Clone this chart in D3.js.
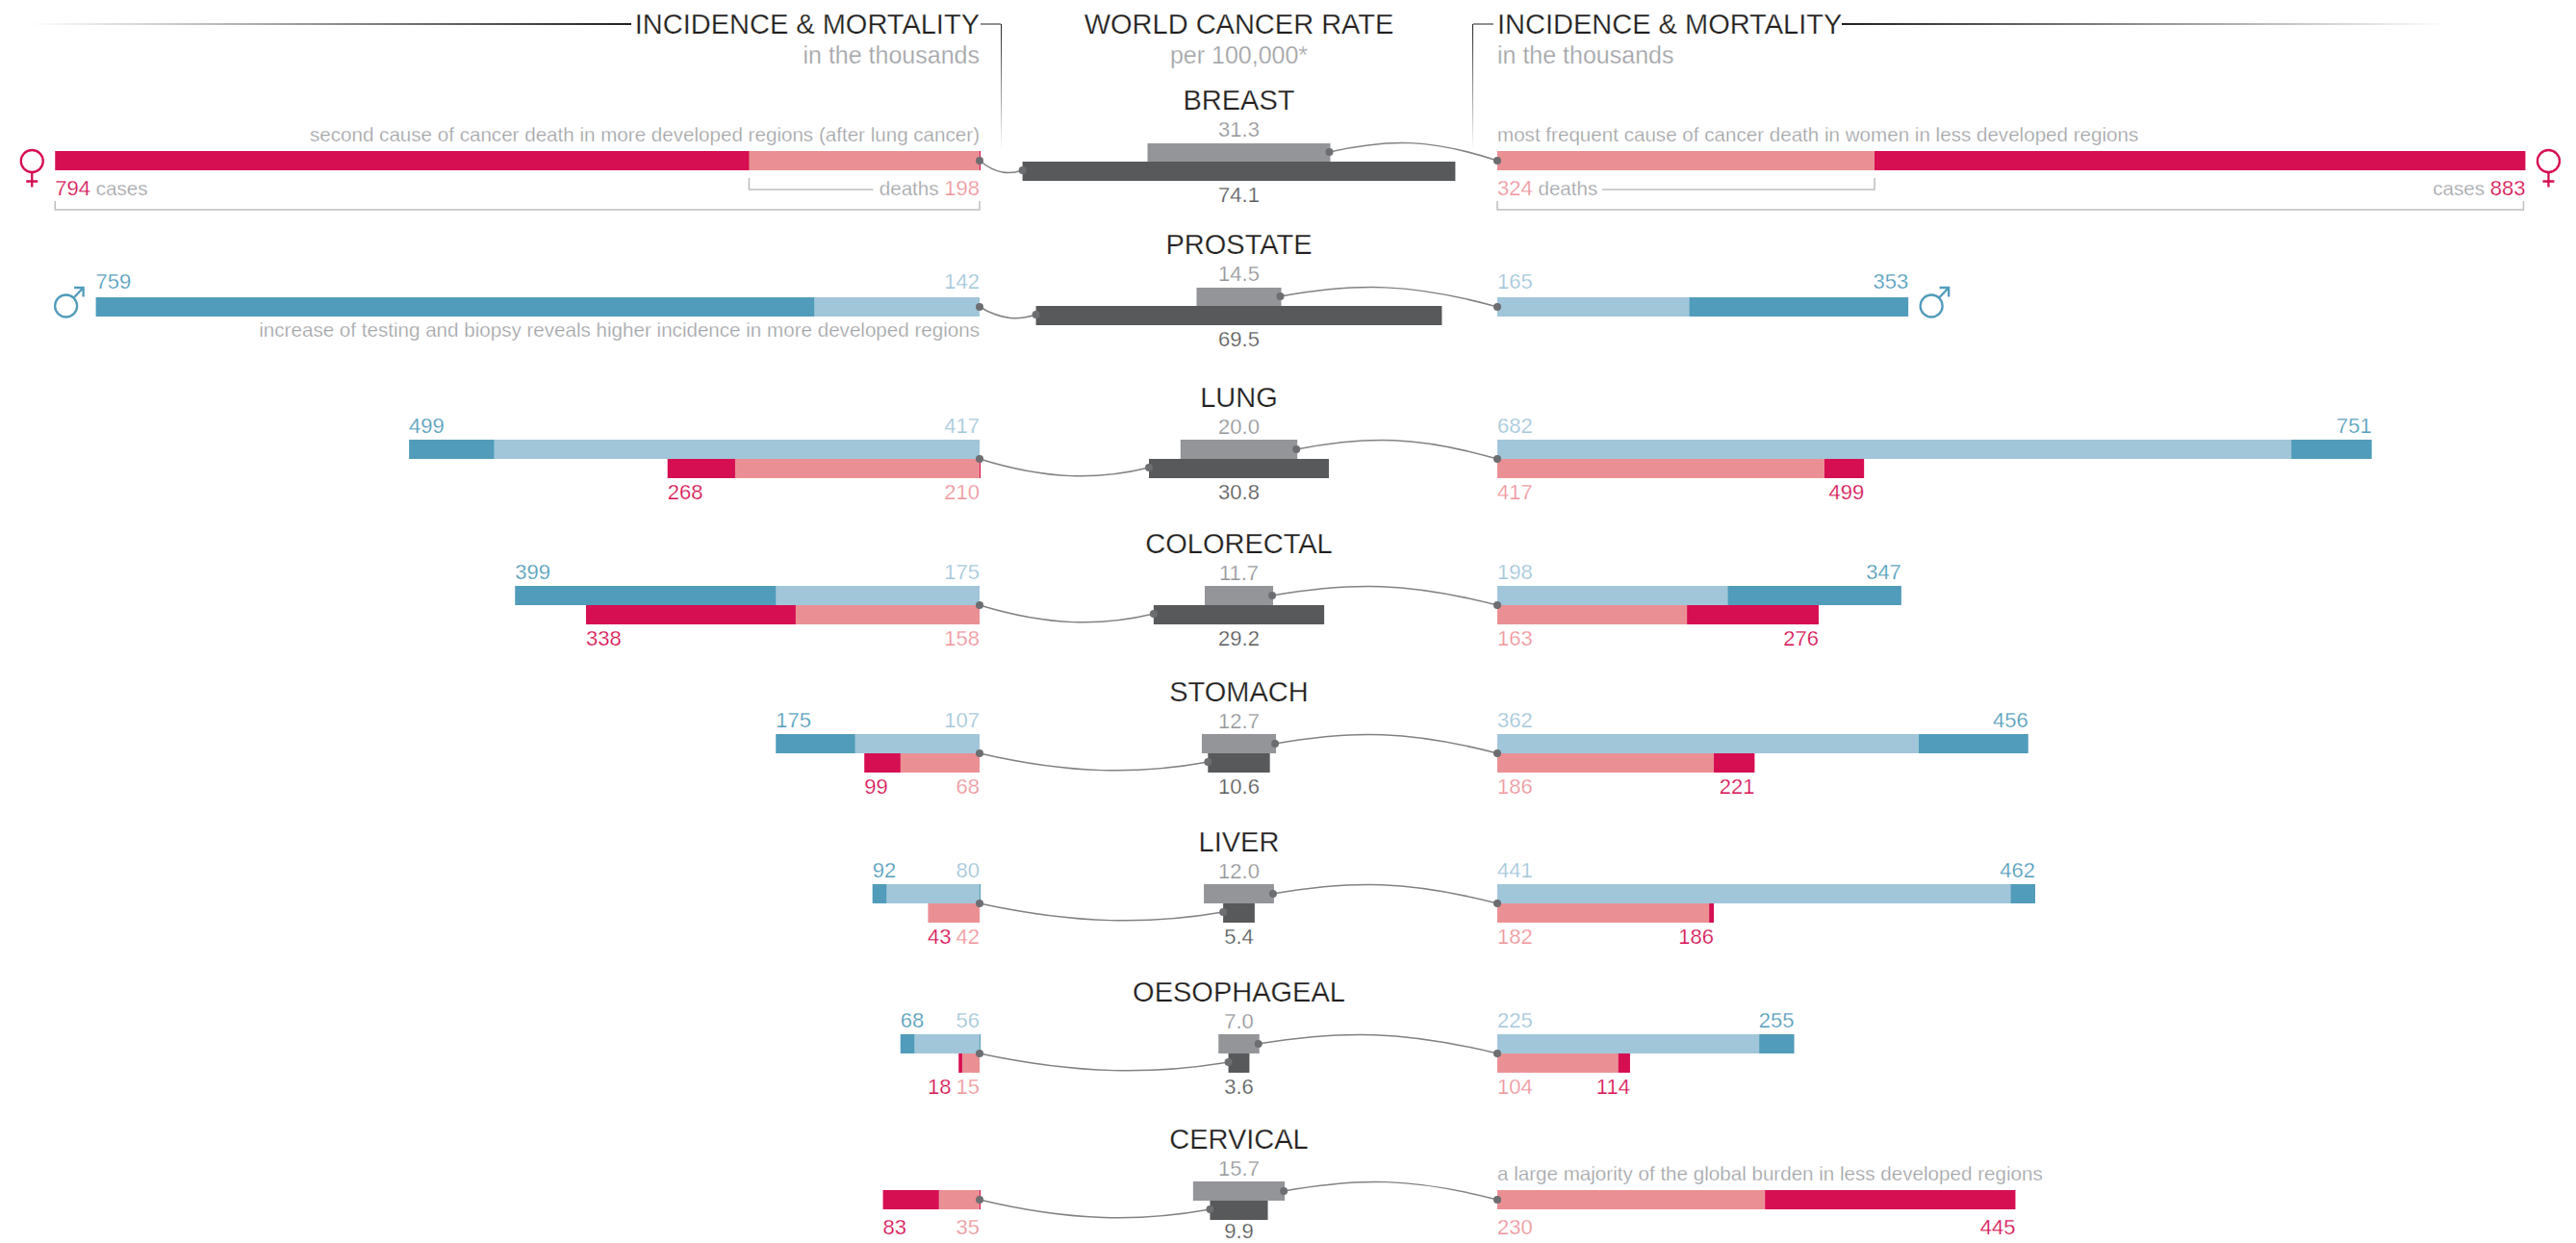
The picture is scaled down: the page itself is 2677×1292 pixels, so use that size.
<!DOCTYPE html>
<html>
<head>
<meta charset="utf-8">
<script src="https://cdn.jsdelivr.net/npm/d3@7/dist/d3.min.js"></script>
<style>
  html, body { margin: 0; background: #fff; }
  text { font-family: "Liberation Sans", sans-serif; }
</style>
</head>
<body>
<div id="chart"></div>
<script>
const cancers = ['BREAST', 'PROSTATE', 'LUNG', 'COLORECTAL', 'STOMACH', 'LIVER', 'OESOPHAGEAL', 'CERVICAL'];

// rate per 100,000
const rateMortality = [31.3, 14.5, 20.0, 11.7, 12.7, 12.0, 7.0, 15.7];
const rateIncidence = [74.1, 69.5, 30.8, 29.2, 10.6, 5.4, 3.6, 9.9];

// thousands, as printed. left = more developed, right = less developed
const leftMaleCases = [null, 759, 499, 399, 175, 92, 68, null];
const leftMaleDeaths = [null, 142, 417, 175, 107, 80, 56, null];
const leftFemaleCases = [794, null, 268, 338, 99, 43, 18, 83];
const leftFemaleDeaths = [198, null, 210, 158, 68, 42, 15, 35];
const rightMaleCases = [null, 353, 751, 347, 456, 462, 255, null];
const rightMaleDeaths = [null, 165, 682, 198, 362, 441, 225, null];
const rightFemaleCases = [883, null, 499, 276, 221, 186, 114, 445];
const rightFemaleDeaths = [324, null, 417, 163, 186, 182, 104, 230];

// a few bars in the picture don't have the length their label says
const drawnLength = {
  'LUNG.leftMaleCases': 490,
  'LUNG.rightFemaleCases': 315,
  'LUNG.rightFemaleDeaths': 281,
  'LIVER.leftFemaleCases': 44,
  'LIVER.leftFemaleDeaths': 44
};

const notes = [
  { cancer: 'BREAST', side: 'left', pos: 'above', text: 'second cause of cancer death in more developed regions (after lung cancer)' },
  { cancer: 'BREAST', side: 'right', pos: 'above', text: 'most frequent cause of cancer death in women in less developed regions' },
  { cancer: 'PROSTATE', side: 'left', pos: 'below', text: 'increase of testing and biopsy reveals higher incidence in more developed regions' },
  { cancer: 'CERVICAL', side: 'right', pos: 'above', text: 'a large majority of the global burden in less developed regions' }
];

const color = {
  femaleDark: '#d60e52', femaleLight: '#ea9094', femaleLabel: '#ef949b',
  maleDark: '#519cba', maleLight: '#a1c6d9',
  rateTop: '#939598', rateBottom: '#58595b',
  title: '#231f20', note: '#a2a4a7', bracket: '#bcbec0',
  link: '#808285', dot: '#6d6e71'
};

const width = 2677;
const height = 1292;
const barH = 20;
const numSize = 22;
const noteSize = 20.6;

const rowY = d3.scaleOrdinal()
  .domain(cancers)
  .range([168, 318, 477, 629, 783, 939, 1095, 1248]);

const leftX = d3.scaleLinear().domain([0, 1000]).range([1018, -192]);
const rightX = d3.scaleLinear().domain([0, 1000]).range([1556, 2766]);
const centerX = 1287.5;
const rateW = d3.scaleLinear().domain([0, 40]).range([0, 121.4]);

const svg = d3.select('#chart').append('svg')
  .attr('width', width)
  .attr('height', height)
  .style('display', 'block');

const defs = svg.append('defs');
const fade = (id, x1, y1, x2, y2) => {
  const g = defs.append('linearGradient').attr('id', id)
    .attr('gradientUnits', 'userSpaceOnUse')
    .attr('x1', x1).attr('y1', y1).attr('x2', x2).attr('y2', y2);
  g.append('stop').attr('offset', 0).attr('stop-color', '#231f20');
  g.append('stop').attr('offset', 1).attr('stop-color', '#231f20').attr('stop-opacity', 0);
};
fade('fade-left', 656, 0, 30, 0);
fade('fade-right', 1914, 0, 2544, 0);
fade('fade-down', 0, 25, 0, 156);

// the original face is a light cut, shave the strokes a bit
const thin = sel => sel.attr('stroke', '#fff').attr('stroke-width', 0.25);

const label = (g, x, y, str, fill, anchor, size) => g.append('text')
  .attr('x', x).attr('y', y)
  .attr('fill', fill)
  .attr('text-anchor', anchor)
  .attr('font-size', size)
  .call(thin)
  .text(str);

// header
const head = svg.append('g').attr('class', 'head');
label(head, leftX(0), 35, 'INCIDENCE & MORTALITY', color.title, 'end', 29);
label(head, rightX(0), 35, 'INCIDENCE & MORTALITY', color.title, 'start', 29);
label(head, centerX, 35, 'WORLD CANCER RATE', color.title, 'middle', 29);
label(head, leftX(0), 66, 'in the thousands', color.note, 'end', 25);
label(head, rightX(0), 66, 'in the thousands', color.note, 'start', 25);
label(head, centerX, 66, 'per 100,000*', color.note, 'middle', 25);

head.append('rect').attr('x', 30).attr('y', 24).attr('width', 626).attr('height', 2).attr('fill', 'url(#fade-left)');
head.append('rect').attr('x', 1914).attr('y', 24).attr('width', 630).attr('height', 2).attr('fill', 'url(#fade-right)');
head.append('path').attr('d', 'M1019,25H1040').attr('stroke', '#231f20').attr('fill', 'none');
head.append('path').attr('d', 'M1531,25H1552').attr('stroke', '#231f20').attr('fill', 'none');
head.append('rect').attr('x', 1040).attr('y', 25).attr('width', 1).attr('height', 131).attr('fill', 'url(#fade-down)');
head.append('rect').attr('x', 1530).attr('y', 25).attr('width', 1).attr('height', 131).attr('fill', 'url(#fade-down)');

const rows = cancers.map((name, i) => ({
  name, i,
  top: rateMortality[i],
  bottom: rateIncidence[i],
  left: { male: [leftMaleCases[i], leftMaleDeaths[i]], female: [leftFemaleCases[i], leftFemaleDeaths[i]] },
  right: { male: [rightMaleCases[i], rightMaleDeaths[i]], female: [rightFemaleCases[i], rightFemaleDeaths[i]] }
}));

const seriesKey = (side, sex, k) => `${side}${sex === 'male' ? 'Male' : 'Female'}${k === 0 ? 'Cases' : 'Deaths'}`;
const len = (d, side, sex, k) => {
  const o = drawnLength[`${d.name}.${seriesKey(side, sex, k)}`];
  return o !== undefined ? o : d[side][sex][k];
};
const isSingle = d => d.left.male[0] === null || d.left.female[0] === null;
const barTop = (d, sex) => {
  if (isSingle(d)) return rowY(d.name) - (d.name === 'PROSTATE' ? 9 : 11);
  return sex === 'male' ? rowY(d.name) - barH : rowY(d.name);
};

// the dark bar sticks out one pixel past the light one in these rows
const peek = { BREAST: 'female', LUNG: 'female', LIVER: 'male', OESOPHAGEAL: 'male', CERVICAL: 'female' };

const rowG = svg.selectAll('.row').data(rows).join('g').attr('class', 'row');

rowG.each(function (d) {
  const g = d3.select(this);
  const y = rowY(d.name);
  const single = isSingle(d);

  // links under the bars
  const sideY = single ? barTop(d) + barH / 2 : y;
  const x0 = centerX - rateW(d.bottom);
  const x1 = centerX + rateW(d.top);
  const yb = y + barH / 2 - 1;
  const yt = y - barH / 2;
  const dx = x0 - leftX(0);
  const dip = Math.min(13, dx * 0.1);
  const lp = d3.path();
  lp.moveTo(leftX(0), sideY);
  lp.bezierCurveTo(leftX(0) + dx * 0.4, yb + dip, leftX(0) + dx * 0.7, yb + dip, x0, yb);
  const rdx = rightX(0) - x1;
  const rp = d3.path();
  rp.moveTo(x1 - 1, yt);
  rp.bezierCurveTo(x1 + rdx * 0.35, yt - 14, x1 + rdx * 0.6, yt - 14, rightX(0), sideY);

  ['left', 'right'].forEach(side => {
    const sx = side === 'left' ? leftX : rightX;
    ['male', 'female'].forEach(sex => {
      if (d[side][sex][0] === null) return;
      const dark = sex === 'male' ? color.maleDark : color.femaleDark;
      const light = sex === 'male' ? color.maleLight : color.femaleLight;
      const top = barTop(d, sex);
      [0, 1].forEach(k => {
        const v = len(d, side, sex, k);
        const a = Math.min(sx(0), sx(v));
        const w = Math.abs(sx(v) - sx(0));
        const extra = k === 0 && side === 'left' && peek[d.name] === sex ? 1 : 0;
        g.append('rect')
          .attr('x', a).attr('y', top)
          .attr('width', w + extra).attr('height', barH)
          .attr('fill', k === 0 ? dark : light);
      });

      // printed numbers, breast has its own further down
      if (d.name === 'BREAST') return;
      const ly = sex === 'male' ? top - (single ? 9 : 7) : top + barH + (single ? 26 : 22);
      const darkLab = sex === 'male' ? color.maleDark : color.femaleDark;
      const lightLab = sex === 'male' ? color.maleLight : color.femaleLabel;
      const inner = label(g, sx(0), ly, d[side][sex][1], lightLab, side === 'left' ? 'end' : 'start', numSize);
      const outerX = sx(len(d, side, sex, 0));
      const outer = label(g, outerX, ly, d[side][sex][0], darkLab, side === 'left' ? 'start' : 'end', numSize);
      if (side === 'left') {
        const limit = inner.node().getBBox().x - 5;
        const over = outer.node().getBBox().x + outer.node().getBBox().width - limit;
        if (over > 0) outer.attr('x', outerX - over);
      }
    });
  });

  // center
  g.append('rect')
    .attr('x', centerX - rateW(d.top)).attr('y', y - barH + (single && d.name !== 'CERVICAL' ? 1 : 0))
    .attr('width', rateW(d.top) * 2).attr('height', barH)
    .attr('fill', color.rateTop);
  g.append('rect')
    .attr('x', centerX - rateW(d.bottom)).attr('y', y)
    .attr('width', rateW(d.bottom) * 2).attr('height', barH)
    .attr('fill', color.rateBottom);

  g.append('path').attr('d', lp).attr('fill', 'none').attr('stroke', color.link).attr('stroke-width', 1.5);
  g.append('path').attr('d', rp).attr('fill', 'none').attr('stroke', color.link).attr('stroke-width', 1.5);
  [[leftX(0), sideY], [x0, yb], [x1 - 1, yt], [rightX(0), sideY]].forEach(p => {
    g.append('circle').attr('cx', p[0]).attr('cy', p[1]).attr('r', 4).attr('fill', color.dot);
  });

  label(g, centerX, y - 54, d.name, color.title, 'middle', 29);
  label(g, centerX, y - 26, d3.format('.1f')(d.top), color.rateTop, 'middle', numSize);
  label(g, centerX, Math.min(y + 42, height - 5), d3.format('.1f')(d.bottom), color.rateBottom, 'middle', numSize);
});

// notes
notes.forEach(n => {
  const d = rows[cancers.indexOf(n.cancer)];
  const sex = d.left.male[0] === null ? 'female' : 'male';
  const top = barTop(d, sex);
  const ny = n.pos === 'above' ? top - 10 : top + barH + 21;
  const left = n.side === 'left';
  label(svg, left ? leftX(0) : rightX(0), ny, n.text, color.note, left ? 'end' : 'start', noteSize);
});

// breast labels and brackets
const breast = rows[0];
const by = rowY('BREAST');
const textPair = (x, anchor, parts) => {
  const t = svg.append('text').attr('x', x).attr('y', by + 35)
    .attr('text-anchor', anchor).attr('font-size', numSize).call(thin);
  parts.forEach(p => t.append('tspan').attr('fill', p[1]).attr('font-size', p[2]).text(p[0]));
};
textPair(leftX(breast.left.female[0]), 'start', [[breast.left.female[0], color.femaleDark, numSize], [' cases', color.note, noteSize]]);
textPair(leftX(0), 'end', [['deaths ', color.note, noteSize], [breast.left.female[1], color.femaleLabel, numSize]]);
textPair(rightX(0), 'start', [[breast.right.female[1], color.femaleLabel, numSize], [' deaths', color.note, noteSize]]);
textPair(rightX(breast.right.female[0]), 'end', [['cases ', color.note, noteSize], [breast.right.female[0], color.femaleDark, numSize]]);

const bracket = d => svg.append('path').attr('d', d).attr('fill', 'none').attr('stroke', color.bracket).attr('stroke-width', 1.5);
const lc = leftX(breast.left.female[0]);
const ld = leftX(breast.left.female[1]);
const rc = rightX(breast.right.female[0]) - 2;
const rd = rightX(breast.right.female[1]);
bracket(`M${lc},${by + 41}V${by + 50}H${leftX(0)}V${by + 41}`);
bracket(`M${rightX(0)},${by + 41}V${by + 50}H${rc}V${by + 41}`);
bracket(`M${ld},${by + 17}V${by + 29}H${ld + 129}`);
bracket(`M${rd},${by + 17}V${by + 29}H${rd - 283}`);

// gender marks
const venus = (cx, cy) => {
  const g = svg.append('g').attr('transform', `translate(${cx},${cy})`)
    .attr('fill', 'none').attr('stroke', color.femaleDark).attr('stroke-width', 2.3);
  g.append('ellipse').attr('rx', 11.5).attr('ry', 11.5);
  g.append('path').attr('d', 'M0,11.5V27M-6,21H6');
};
const mars = (cx, cy) => {
  const g = svg.append('g').attr('transform', `translate(${cx},${cy})`)
    .attr('fill', 'none').attr('stroke', color.maleDark).attr('stroke-width', 2.3);
  g.append('ellipse').attr('rx', 11.5).attr('ry', 11.5);
  g.append('path').attr('d', 'M8,-8.5L18,-19M8.5,-19H18V-9.5');
};
venus(leftX(breast.left.female[0]) - 24, by - 0.5);
venus(rightX(breast.right.female[0]) + 24, by - 0.5);
mars(leftX(rows[1].left.male[0]) - 31, rowY('PROSTATE'));
mars(rightX(rows[1].right.male[0]) + 24, rowY('PROSTATE'));
</script>
</body>
</html>
